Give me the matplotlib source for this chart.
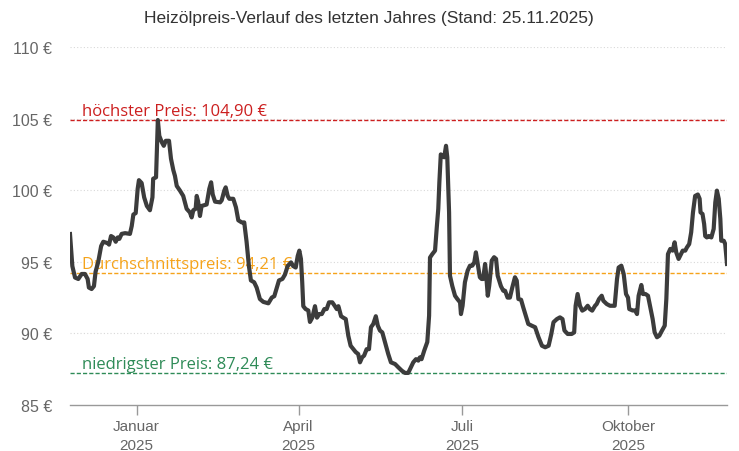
import numpy as np
import matplotlib
matplotlib.use("Agg")
import matplotlib.pyplot as plt
import matplotlib.dates as mdates

title = "Heizölpreis-Verlauf des letzten Jahres (Stand: 25.11.2025)"
start_date = "2024-11-25"
end_date = "2025-11-25"

# days since start_date
days = [
    0.0, 1.3, 2.8, 4.6, 6.5, 8.3, 9.8, 10.5, 12.0, 13.3, 14.2, 15.7, 17.3, 18.5, 21.0, 21.7,
    22.8, 24.1, 25.4, 26.5, 27.4, 28.7, 30.6, 33.3, 34.3, 35.2, 36.5, 37.6, 38.3, 39.8, 41.2,
    42.7, 44.4, 45.8, 46.2, 47.8, 48.8, 49.6, 51.0, 52.1, 53.2, 55.0, 56.1, 57.4, 58.3,
    59.3, 61.1, 62.9, 64.8, 66.6, 67.6, 68.5, 69.8, 70.4, 71.2, 72.2, 73.1, 75.9, 77.4, 78.4,
    79.3, 80.6, 83.4, 84.3, 85.7, 86.5, 87.6, 88.5, 90.7, 92.2, 93.5, 95.4, 96.8, 98.1, 99.4,
    100.5, 102.3, 103.7, 105.5, 107.4, 110.2, 112.1, 113.5, 114.9, 116.1, 118.0, 119.4, 120.9,
    122.8, 124.0, 125.4, 126.5, 127.4, 128.3, 129.0, 129.6, 130.9, 132.4, 133.3, 134.6, 136.1,
    137.2, 138.5, 139.9, 141.3, 142.6, 143.9, 145.7, 147.2, 148.2, 149.1, 150.6, 151.8, 153.2,
    154.6, 155.9, 157.4, 158.7, 160.1, 161.1, 162.3, 163.4, 164.8, 166.1, 167.2, 168.5, 169.9,
    171.0, 172.2, 173.5, 175.0, 176.8, 178.3, 180.6,
    182.4, 184.3, 186.1, 187.9, 189.4, 190.7, 192.2, 193.5, 194.4, 195.3, 196.8, 198.5, 199.5,
    200.0, 201.3, 202.8, 203.7, 204.6, 205.2, 206.0, 206.8, 207.9, 208.9, 209.6, 210.6, 211.1,
    212.4, 213.9, 215.2, 216.7, 217.2, 218.1, 219.4, 220.9, 222.2, 223.5, 224.6, 225.5, 226.5,
    227.7, 228.7, 229.5, 230.6, 231.1, 232.1, 232.9, 234.3, 235.6, 236.7, 237.6, 239.4, 240.7,
    241.7, 243.1, 244.4,
    245.7, 247.2, 248.2, 249.1, 250.6, 251.8, 253.2, 254.6, 256.5, 258.4, 260.3, 262.2, 264.0,
    265.9, 267.4, 268.6, 270.5, 272.2, 273.6, 274.7, 276.5, 278.7, 280.1, 280.9, 282.0, 283.3,
    284.6, 286.1, 287.6, 288.8, 290.1, 291.7, 292.6, 293.9, 295.4, 296.3, 298.2, 300.0, 301.8,
    302.6, 303.9, 304.8, 306.3, 307.6, 308.9, 310.0, 310.7, 312.6, 314.0, 315.0, 315.9, 317.4,
    318.3, 319.7, 321.1, 322.4, 323.7, 324.8, 326.1, 327.4, 328.9, 330.4, 331.3, 332.2, 333.5,
    334.8, 335.9, 336.8, 338.1, 339.0, 340.4, 341.8, 342.7, 344.0, 345.1, 346.1, 347.3, 348.8,
    349.8, 350.3, 351.4, 352.3, 352.9, 353.8, 354.9, 356.3, 357.6, 358.5, 359.4, 360.4, 361.3,
    361.8, 363.2, 364.0, 365.0,
]

prices = [
    96.94, 94.7, 93.9, 93.8, 94.15, 94.15, 93.8, 93.2, 93.1, 93.3, 94.3, 95.0, 96.1, 96.4, 96.3, 96.2,
    96.8, 96.7, 96.4, 96.7, 96.6, 96.95, 97.0, 96.95, 97.5, 98.3, 98.4, 100.1, 100.7, 100.5, 99.5,
    98.9, 98.6, 99.5, 100.8, 100.9, 104.9, 103.8, 103.35, 103.1, 103.45, 103.45, 102.2, 101.4, 101.0,
    100.3, 99.97, 99.6, 98.7, 98.45, 98.1, 98.6, 98.7, 99.6, 99.2, 98.2, 98.9, 99.0, 100.1, 100.55,
    99.7, 99.2, 99.15, 99.3, 99.97, 100.2, 99.6, 99.4, 99.4, 98.8, 97.9, 97.75, 97.75, 96.4, 94.7,
    93.7, 93.57, 93.2, 92.4, 92.2, 92.1, 92.5, 92.6, 93.2, 93.7, 93.8, 94.1, 94.7,
    94.96, 94.7, 94.6, 95.4, 95.78, 95.2, 93.6, 91.9, 91.7, 91.6, 90.8, 91.1, 91.9,
    91.1, 91.35, 91.35, 91.7, 91.7, 92.17, 92.17, 91.9, 91.7, 91.9, 91.2, 91.1, 91.0,
    89.84, 89.14, 88.9, 88.7, 88.56, 87.98, 88.33, 88.45, 88.9, 88.9, 90.43, 90.66, 91.2,
    90.54, 90.2, 90.07, 89.38, 88.56, 87.98, 87.86,
    87.63, 87.4, 87.24, 87.24, 87.63, 87.98, 88.2, 88.1, 88.33, 88.2, 88.8, 89.4, 91.24,
    95.3, 95.54, 95.78, 97.3, 98.7, 100.55, 102.5, 102.4, 102.3, 103.1, 102.3, 98.45, 94.03,
    93.3, 92.63, 92.4, 92.17, 91.35, 91.93, 93.57, 94.38, 94.73, 94.73, 94.96, 95.66, 94.85,
    93.92, 93.8, 93.8, 94.85, 94.27, 92.63, 93.33, 95.08, 95.32, 95.2, 94.03, 93.3, 92.98,
    92.98, 92.5, 92.5,
    93.2, 93.92, 93.68, 92.4, 92.35, 91.82, 91.24, 90.66, 90.54, 90.43, 89.73, 89.14, 89.03,
    89.14, 89.96, 90.78, 91.0, 91.12, 91.0, 90.2, 89.96, 89.96, 90.07, 91.93, 92.75, 91.93,
    91.59, 91.7, 91.93, 91.7, 91.59, 91.93, 92.05, 92.4, 92.63, 92.28, 92.05, 91.93, 91.93,
    91.93, 93.8, 94.6, 94.73, 94.15, 92.75, 92.5, 91.7, 91.6, 91.6, 91.35, 92.63, 93.38,
    92.75, 92.75, 92.63, 91.82, 91.0, 90.07, 89.73, 89.84, 90.2, 90.54, 92.4, 95.54, 95.9,
    95.78, 96.36, 95.66, 95.2, 95.43, 95.78, 95.78, 96.0, 96.24, 97.06, 98.45, 99.6, 99.7,
    99.4, 98.45, 98.34, 97.64, 96.8, 96.7, 96.8, 96.7, 97.3, 99.15, 99.97, 99.4, 97.99,
    96.47, 96.47, 96.24, 94.85,
]

max_price = 104.90
avg_price = 94.21
min_price = 87.24
max_label = "höchster Preis: 104,90 €"
avg_label = "Durchschnittspreis: 94,21 €"
min_label = "niedrigster Preis: 87,24 €"

y_ticks = [85, 90, 95, 100, 105, 110]
x_tick_dates = ["2025-01-01", "2025-04-01", "2025-07-01", "2025-10-01"]
x_tick_labels = ["Januar\n2025", "April\n2025", "Juli\n2025", "Oktober\n2025"]

# ---------------------------------------------------------------
cond = ["Liberation Sans", "DejaVu Sans"]
labfont = ["Open Sans", "DejaVu Sans"]

start = np.datetime64(start_date)
dates = start + (np.array(days) * 86400).astype("timedelta64[s]")

fig = plt.figure(figsize=(7.39, 4.52), dpi=100)
ax = fig.add_axes([70 / 739, 1 - 406 / 452, 657 / 739, 358 / 452])

ax.set_xlim(np.datetime64(start_date), np.datetime64(end_date))
ax.set_ylim(85, 110)

for t in y_ticks[1:]:
    ax.axhline(t, color="#d8d8d8", lw=0.8, ls=(0, (1, 2)), zorder=1)

ref_colors = {"max": "#cc1f1f", "avg": "#f5a31a", "min": "#2e8b57"}
for val, lab, col in [(max_price, max_label, ref_colors["max"]),
                      (avg_price, avg_label, ref_colors["avg"]),
                      (min_price, min_label, ref_colors["min"])]:
    ax.axhline(val, color=col, lw=1.0, ls=(0, (3, 1.5)), zorder=2)
    ax.annotate(lab, xy=(0, val), xycoords=("axes fraction", "data"),
                xytext=(8.5, 0.5), textcoords="offset points", ha="left", va="bottom",
                color=col, fontsize=12, family=labfont, zorder=2)

ax.plot(dates, prices, color="#3c3c3c", lw=3.0, solid_joinstyle="round", zorder=4)

for s in ["top", "right", "left"]:
    ax.spines[s].set_visible(False)
ax.spines["bottom"].set_color("#999999")
ax.spines["bottom"].set_linewidth(1.0)

ax.set_yticks(y_ticks)
ax.set_yticklabels([f"{t} €" for t in y_ticks], family=cond, fontsize=11.5, color="#666666")
ax.tick_params(axis="y", length=0, pad=13)

ax.set_xticks([mdates.date2num(np.datetime64(d)) for d in x_tick_dates])
ax.set_xticklabels(x_tick_labels, family=cond, fontsize=11, color="#666666", linespacing=1.45)
ax.tick_params(axis="x", length=7, color="#999999", width=1, pad=3)

fig.text(369 / 739, 1 - 18 / 452, title, ha="center", va="center",
         family=cond, fontsize=12.5, color="#333333")

fig.savefig("out.png", dpi=100)
